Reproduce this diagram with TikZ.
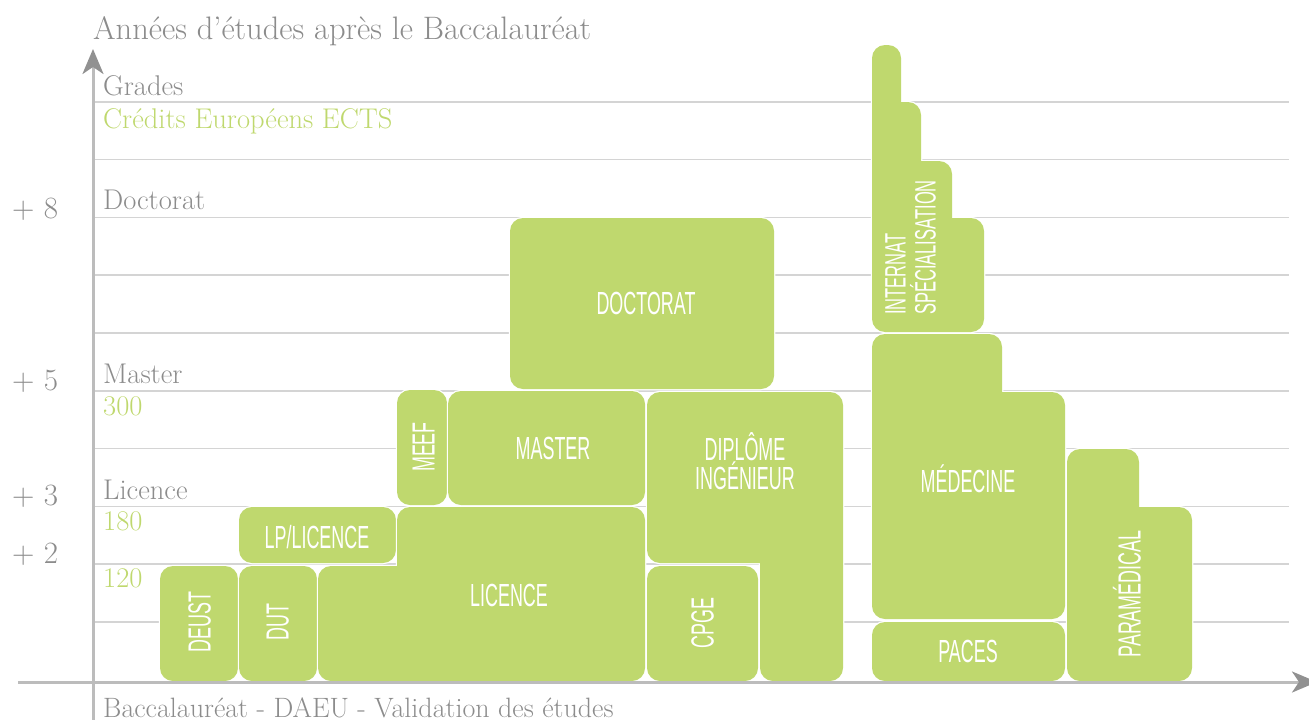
\documentclass[tikz,border=0pt]{standalone}
\usepackage{fontspec}
\usepackage{tikz}
\usetikzlibrary{arrows.meta}

\newfontfamily\boxfont[FakeStretch=0.56]{Liberation Sans}

\definecolor{boxgreen}{RGB}{191,216,110}
\definecolor{textgrey}{RGB}{140,140,140}
\definecolor{gridgrey}{RGB}{212,212,212}
\definecolor{axisgrey}{RGB}{188,188,188}
\definecolor{tipgrey}{RGB}{145,145,145}

\begin{document}
\begin{tikzpicture}[x=1pt, y=-1pt,
    box/.style={fill=boxgreen, rounded corners=13pt, preaction={draw=white, line width=2.5pt}},
    boxlabel/.style={text=white, font=\boxfont\fontsize{32}{29}\selectfont, inner sep=0pt,
                     text height=23pt, text depth=0pt, align=center},
    gradelabel/.style={text=textgrey, font=\fontsize{28.5}{28}\selectfont, anchor=base west, inner sep=0pt},
    ectslabel/.style={text=boxgreen, font=\fontsize{28.5}{28}\selectfont, anchor=base west, inner sep=0pt},
    yearlabel/.style={text=textgrey, font=\fontsize{31}{31}\selectfont, anchor=base west, inner sep=0pt},
    axis/.style={draw=axisgrey, line width=3pt},
    axistip/.style={-{Stealth[length=25pt, width=21pt, inset=7pt, color=tipgrey]}}]
    \useasboundingbox (0,0) rectangle (1309,720);

    % draw grid lines
    \foreach \y in {101.8, 159.6, 217.4, 275.2, 333, 390.8, 448.6, 506.4, 564.2, 622}
        \draw[gridgrey, line width=1.5pt] (93,\y) -- (1289,\y);

    % draw university boxes
    \path[box] (160,566) rectangle (238,681);
    \path[box] (239,566) rectangle (317,681);
    \path[box] (239,507) rectangle (396,563);
    \path[box] (397,507) rectangle (645,681) (318,566) rectangle (645,681);
    \path[box] (397,390) rectangle (447,505);
    \path[box] (448,391) rectangle (645,505);
    \path[box] (510,218) rectangle (774,389);

    % draw engineering boxes
    \path[box] (647,566) rectangle (758,681);
    \path[box] (647,392) rectangle (843,563) (760,392) rectangle (843,681);

    % draw health boxes
    \path[box] (872,622) rectangle (1065,681);
    \path[box] (872,334) rectangle (1002,619) (872,392) rectangle (1065,619);
    \path[box] (872,45) rectangle (901,332) (872,102) rectangle (921,332)
               (872,161) rectangle (952,332) (872,218) rectangle (984,332);
    \path[box] (1067,449) rectangle (1139,681) (1067,507) rectangle (1192,681);

    % box labels
    \node[boxlabel, rotate=90] (deust) at (199,622) {DEUST};
    \node[boxlabel, rotate=90] (dut) at (277,622) {DUT};
    \node[boxlabel] (lp) at (317,537) {LP/LICENCE};
    \node[boxlabel] (licence) at (509,595) {LICENCE};
    \node[boxlabel, rotate=90] (meef) at (423,447) {MEEF};
    \node[boxlabel] (master) at (553,448) {MASTER};
    \node[boxlabel] (doctorat) at (646,303) {DOCTORAT};
    \node[boxlabel, rotate=90] (cpge) at (702,623) {CPGE};
    \node[boxlabel, text height=52pt] (ingenieur) at (745,463.5) {DIPLÔME\\INGÉNIEUR};
    \node[boxlabel] (paces) at (968,651) {PACES};
    \node[boxlabel] (medecine) at (968,481) {MÉDECINE};
    \node[boxlabel, rotate=90, anchor=west, align=left, font=\boxfont\fontsize{29.5}{30}\selectfont,
          text height=51pt] (internat) at (910,315) {INTERNAT\\SPÉCIALISATION};
    \node[boxlabel, rotate=90] (paramedical) at (1129,594) {PARAMÉDICAL};

    % draw axes
    \draw[axis, axistip] (93,720) -- (93,49);
    \draw[axis, axistip] (18,682) -- (1317,682);

    % axis texts
    \node[text=textgrey, font=\fontsize{32.5}{32}\selectfont, anchor=base west, inner sep=0pt]
        (title) at (93,39) {Années d’études après le Baccalauréat};
    \node[text=textgrey, font=\fontsize{28}{28}\selectfont, anchor=base west, inner sep=0pt]
        (bac) at (103,717) {Baccalauréat - DAEU - Validation des études};

    % grades and credits
    \node[gradelabel] (grades) at (103,95) {Grades};
    \node[ectslabel] (ects) at (103,128) {Crédits Européens ECTS};
    \node[gradelabel] (gdoctorat) at (103,209) {Doctorat};
    \node[gradelabel] (gmaster) at (103,383) {Master};
    \node[ectslabel] (c300) at (103,415) {300};
    \node[gradelabel] (glicence) at (103,499) {Licence};
    \node[ectslabel] (c180) at (103,530) {180};
    \node[ectslabel] (c120) at (103,587) {120};

    % years after the baccalaureate
    \node[yearlabel] (y8) at (12,218) {+ 8};
    \node[yearlabel] (y5) at (12,390) {+ 5};
    \node[yearlabel] (y3) at (12,505) {+ 3};
    \node[yearlabel] (y2) at (12,563) {+ 2};
\end{tikzpicture}
\end{document}
